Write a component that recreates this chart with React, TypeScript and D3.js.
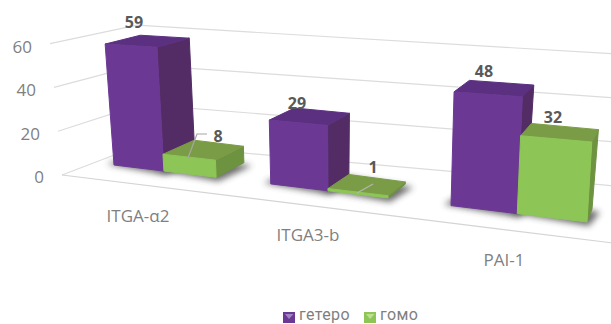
import React from "react";
import * as d3 from "d3";

const categories = ["ITGA-α2", "ITGA3-b", "PAI-1"];
const seriesNames = ["гетеро", "гомо"];
const hetero = [59, 29, 48];
const homo = [8, 1, 32];
const yTicks = [0, 20, 40, 60];

const WIDTH = 611;
const HEIGHT = 324;
const FONT = "'Open Sans', 'Noto Sans', sans-serif";

type Pt = [number, number];

// Perspective map of the chart floor: unit square to screen quadrilateral.
function makeFloor(p0: Pt, p1: Pt, p2: Pt, p3: Pt) {
  const dx1 = p1[0] - p2[0], dx2 = p3[0] - p2[0], sx = p0[0] - p1[0] + p2[0] - p3[0];
  const dy1 = p1[1] - p2[1], dy2 = p3[1] - p2[1], sy = p0[1] - p1[1] + p2[1] - p3[1];
  const det = dx1 * dy2 - dx2 * dy1;
  const g = (sx * dy2 - dx2 * sy) / det;
  const h = (dx1 * sy - sx * dy1) / det;
  const a = p1[0] - p0[0] + g * p1[0], b = p3[0] - p0[0] + h * p3[0];
  const d = p1[1] - p0[1] + g * p1[1], e = p3[1] - p0[1] + h * p3[1];
  return (s: number, t: number): Pt => {
    const w = g * s + h * t + 1;
    return [(a * s + b * t + p0[0]) / w, (d * s + e * t + p0[1]) / w];
  };
}

const floor = makeFloor([62, 175], [621, 244], [627, 187], [143, 144]);

const lerp = (a: number, b: number, t: number) => d3.interpolateNumber(a, b)(t);

// Walls and floor grid: rise and lean per value unit across the floor.
function wallPoint(s: number, t: number, v: number): Pt {
  const [fx, fy] = floor(s, t);
  const rise = lerp(lerp(2.19, 2.55, s), lerp(1.98, 2.2, s), t);
  const lean = lerp(lerp(-0.2, 0.25, s), lerp(-0.1, 0.1, s), t);
  return [fx + lean * v, fy - rise * v];
}

// Category axis in slot units: each category has gap/2, two bars, gap/2.
const xBand = d3.scaleBand<string>().domain(categories).range([0, 3]);
const slot = xBand.bandwidth() / 3;

// Foreshortening along the row of bars, from the first bar's left edge to the last bar's right edge.
const foreshorten = (u: number) => (137.6 * u + 89.9) / (1 - 0.0645 * u);
const rowSpan = d3
  .scaleLinear()
  .domain([foreshorten(slot / 2), foreshorten(3 - slot / 2)])
  .range([0, 1]);

const BAR_FRONT: [Pt, Pt] = [[114, 165], [587, 222]];
const BAR_BACK: [Pt, Pt] = [[148, 150], [592, 209]];

function barPoint(u: number, back: 0 | 1, v: number): Pt {
  const phi = rowSpan(foreshorten(u));
  const row = back ? BAR_BACK : BAR_FRONT;
  const fx = lerp(row[0][0], row[1][0], phi);
  const fy = lerp(row[0][1], row[1][1], phi);
  const rise = back ? lerp(1.945, 2.48, phi) : lerp(2.05, 2.5, phi);
  const lean = back ? lerp(-0.13, 0.2, phi) : lerp(-0.15, 0.15, phi);
  return [fx + lean * v, fy - rise * v];
}

const poly = (pts: Pt[]) => (d3.line()(pts) ?? "") + "Z";

const COLORS = [
  { front: "#6b3994", side: "#532c66", top: "#5c3080" },
  { front: "#8dc657", side: "#6d9240", top: "#7b9c46" },
];

type BarSpec = { key: string; u0: number; u1: number; value: number; series: number };

const bars: BarSpec[] = categories.flatMap((c, i) => {
  const start = (xBand(c) ?? 0) + slot / 2;
  return [
    { key: c + "-0", u0: start, u1: start + slot, value: hetero[i], series: 0 },
    { key: c + "-1", u0: start + slot, u1: start + 2 * slot, value: homo[i], series: 1 },
  ];
});

function Bar({ u0, u1, value, series }: BarSpec) {
  const c = COLORS[series];
  const f0 = barPoint(u0, 0, value);
  const f1 = barPoint(u1, 0, value);
  const b0 = barPoint(u0, 1, value);
  const b1 = barPoint(u1, 1, value);
  const g0 = barPoint(u0, 0, 0);
  const g1 = barPoint(u1, 0, 0);
  const g2 = barPoint(u1, 1, 0);
  return (
    <g strokeLinejoin="round" strokeWidth={1}>
      <path d={poly([g1, g2, b1, f1])} fill={c.side} stroke={c.side} />
      <path d={poly([f0, f1, b1, b0])} fill={c.top} stroke={c.top} />
      <path d={poly([g0, g1, f1, f0])} fill={c.front} stroke={c.front} />
    </g>
  );
}

function Shadow({ u0, u1 }: BarSpec) {
  const [a, b, c, d] = [
    barPoint(u0, 0, 0),
    barPoint(u1, 0, 0),
    barPoint(u1, 1, 0),
    barPoint(u0, 1, 0),
  ];
  const pts: Pt[] = [
    [a[0] - 7, a[1] - 1],
    [b[0] + 2, b[1] + 4],
    [c[0] + 8, c[1] + 3],
    [d[0], d[1]],
  ];
  return <path d={poly(pts)} fill="#3c3c3c" opacity={0.75} filter="url(#floorShadow)" />;
}

const tickLabels = [
  { v: 60, x: 32, y: 46 },
  { v: 40, x: 36, y: 89 },
  { v: 20, x: 40, y: 133 },
  { v: 0, x: 44, y: 176 },
];
const categoryLabels: Pt[] = [[138, 215], [308, 234], [504, 259]];
const heteroLabels: Pt[] = [[134, 22], [297, 103], [484, 71]];
const homoLabels: Pt[] = [[218, 136], [373, 167], [553, 117]];

export default function App() {
  const gridPath = (v: number) =>
    d3.line()([wallPoint(0, 0, v), wallPoint(0, 1, v), wallPoint(1, 1, v)]) ?? "";
  return (
    <svg
      width={WIDTH}
      height={HEIGHT}
      viewBox={`0 0 ${WIDTH} ${HEIGHT}`}
      style={{ position: "absolute", left: 0, top: 0, display: "block", background: "#fff" }}
    >
      <defs>
        <filter id="floorShadow" x="-30%" y="-50%" width="160%" height="200%">
          <feGaussianBlur stdDeviation="3" />
        </filter>
      </defs>

      {yTicks.map((v) => (
        <path key={v} d={gridPath(v)} fill="none" stroke="#dcdcdc" strokeWidth={1.2} />
      ))}
      <path
        d={d3.line()([wallPoint(0, 0, 0), wallPoint(1, 0, 0)]) ?? ""}
        fill="none"
        stroke="#d4d4d4"
        strokeWidth={1.2}
      />

      {bars.map((b) => <Shadow key={b.key} {...b} />)}
      {bars.map((b) => <Bar key={b.key} {...b} />)}

      <path d="M188,158L197,134L207,134" fill="none" stroke="#a6a6a6" strokeWidth={1.2} />
      <path d="M357,193L373,184" fill="none" stroke="#b5b5b5" strokeWidth={1.2} />

      <g fontFamily={FONT} fontSize={17} fill="#7f7f7f" textAnchor="end" dominantBaseline="central">
        {tickLabels.map((t) => (
          <text key={t.v} x={t.x} y={t.y}>{t.v}</text>
        ))}
      </g>

      <g fontFamily={FONT} fontSize={17} fill="#7f7f7f" textAnchor="middle" dominantBaseline="central">
        {categories.map((c, i) => (
          <text key={c} x={categoryLabels[i][0]} y={categoryLabels[i][1]}>{c}</text>
        ))}
      </g>

      <g fontFamily={FONT} fontSize={16} fontWeight={700} fill="#595959" textAnchor="middle" dominantBaseline="central">
        {hetero.map((v, i) => (
          <text key={i} x={heteroLabels[i][0]} y={heteroLabels[i][1]}>{v}</text>
        ))}
        {homo.map((v, i) => (
          <text key={i} x={homoLabels[i][0]} y={homoLabels[i][1]}>{v}</text>
        ))}
      </g>

      <g fontFamily="Roboto, sans-serif" fontSize={16} letterSpacing={0.4} fill="#7f7f7f">
        {seriesNames.map((name, i) => {
          const x = i === 0 ? 284 : 365;
          const c = COLORS[i];
          return (
            <g key={name}>
              <rect x={x - 1} y={312} width={12} height={11} fill={c.front} />
              <path d={poly([[x + 1, 314], [x + 9.5, 314], [x + 5, 319]])} fill={i === 0 ? "#a184c4" : "#bde08f"} />
              <text x={x + 15} y={320}>{name}</text>
            </g>
          );
        })}
      </g>
    </svg>
  );
}
